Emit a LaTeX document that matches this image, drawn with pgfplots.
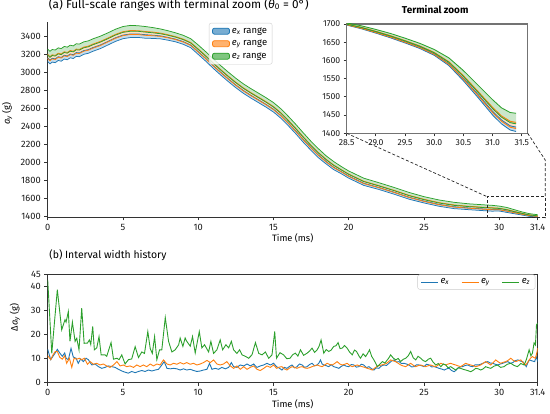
\documentclass[border=0pt]{standalone}
\usepackage{fontspec}
\setmainfont{Fira Sans}
\usepackage{pgfplots}
\pgfplotsset{compat=1.18}
\usepgfplotslibrary{fillbetween}
\usepackage{pgfplotstable}
\definecolor{cb}{HTML}{1F77B4}
\definecolor{co}{HTML}{FF7F0E}
\definecolor{cg}{HTML}{2CA02C}
\definecolor{spinecol}{HTML}{333333}

\pgfplotstableread{
t G glo ohi olo bhi blo
0.0 3255 3188 3196 3150 3157 3115
0.15 3230 3163 3171 3125 3132 3090
0.3 3250 3183 3191 3145 3152 3110
0.5 3244 3177 3185 3139 3146 3104
0.7 3268 3201 3209 3163 3170 3128
0.9 3260 3193 3201 3155 3162 3120
1.1 3284 3217 3225 3179 3186 3144
1.3 3276 3209 3217 3171 3178 3136
1.5 3298 3231 3239 3193 3200 3158
1.7 3290 3223 3231 3185 3192 3150
1.9 3314 3247 3255 3209 3216 3174
2.1 3310 3243 3251 3205 3212 3170
2.4 3335 3269 3277 3231 3238 3197
2.7 3346 3280 3288 3242 3249 3208
3.0 3368 3302 3310 3264 3271 3230
3.5 3398 3332 3340 3294 3301 3260
4.0 3435 3370 3378 3334 3340 3300
4.5 3475 3410 3418 3374 3380 3340
5.0 3505 3440 3448 3404 3410 3370
5.5 3518 3453 3461 3417 3423 3383
6.0 3514 3452 3459 3416 3423 3384
6.5 3505 3443 3450 3407 3414 3375
7.0 3493 3435 3443 3403 3409 3373
7.5 3478 3425 3432 3395 3401 3368
8.0 3458 3408 3414 3379 3384 3353
8.5 3435 3387 3393 3360 3365 3335
9.0 3408 3360 3366 3333 3338 3308
9.5 3370 3322 3328 3295 3300 3270
10.0 3300 3250 3256 3221 3226 3195
10.5 3225 3175 3181 3146 3151 3120
11.0 3145 3095 3101 3066 3071 3040
11.5 3070 3020 3026 2991 2996 2965
12.0 2998 2948 2954 2919 2924 2893
12.5 2930 2880 2886 2851 2856 2825
13.0 2868 2818 2824 2789 2794 2763
13.5 2815 2765 2771 2736 2741 2710
14.0 2765 2715 2721 2686 2691 2660
14.5 2715 2665 2671 2636 2641 2610
15.0 2660 2610 2616 2581 2586 2555
15.5 2590 2540 2546 2511 2516 2485
16.0 2505 2455 2461 2426 2431 2400
16.5 2415 2365 2371 2336 2341 2310
17.0 2320 2270 2276 2241 2246 2215
17.5 2228 2180 2186 2153 2158 2128
18.0 2145 2097 2103 2070 2075 2045
18.5 2068 2025 2030 2000 2005 1978
19.0 2005 1962 1967 1937 1942 1915
19.5 1950 1912 1916 1890 1894 1870
20.0 1900 1862 1866 1840 1844 1820
21.0 1820 1782 1786 1760 1764 1740
22.0 1770 1734 1738 1714 1717 1695
23.0 1718 1682 1686 1662 1665 1643
24.0 1662 1626 1630 1606 1609 1587
25.0 1615 1581 1586 1562 1566 1545
26.0 1578 1544 1549 1525 1529 1508
27.0 1552 1518 1523 1499 1503 1482
28.0 1535 1504 1508 1486 1489 1470
29.0 1524 1493 1497 1475 1478 1459
29.5 1519 1488 1492 1470 1473 1454
30.0 1510 1484 1487 1469 1471 1455
30.5 1495 1469 1472 1454 1456 1440
31.0 1470 1448 1451 1436 1438 1425
31.5 1446 1429 1431 1420 1421 1411
32.0 1426 1411 1413 1404 1405 1396
32.55 1414 1402 1403 1395 1396 1389
}\mainT

\pgfplotstableread{
t G glo ohi olo bhi blo
28.5 1703 1699.5 1700 1698 1698.4 1697
28.75 1695 1690.4 1691 1688.3 1688.9 1687
29.0 1685 1679.2 1680 1676.6 1677.4 1675
29.25 1674 1667 1668 1663.9 1664.9 1662
29.5 1661 1653.5 1654.5 1650.1 1651.1 1648
29.75 1647 1638.9 1640 1635.2 1636.4 1633
30.0 1630 1620.7 1622 1616.6 1617.8 1614
30.25 1607 1594.8 1596.5 1589.4 1591 1586
30.5 1572 1555.8 1558 1548.5 1550.7 1544
30.75 1532 1512.3 1515 1503.4 1506.2 1498
31.0 1492 1467.6 1471 1456.7 1460.1 1450
31.15 1470 1444.5 1448 1433 1436.6 1426
31.3 1457 1429.2 1433 1416.7 1420.5 1409
31.4 1455 1426 1430 1413 1417 1405
}\insetT

\pgfplotstableread{
t v
0 42.6
0.27 12
0.45 25
0.64 38.5
0.93 21.8
1.15 26
1.22 25
1.37 29.4
1.48 17
1.64 25
1.82 17
1.93 18.3
2.08 13.5
2.26 30.8
2.42 16.2
2.64 16.3
2.77 17.6
2.86 15.7
2.99 23.2
3.1 13.5
3.26 14.3
3.41 19
3.55 11.4
3.81 11.4
3.92 10.8
4.21 16.5
4.37 9.6
4.6 10
4.74 9.4
4.92 11.4
5.14 7.6
5.36 9.4
5.58 9.7
5.81 14.8
6.03 10.3
6.25 12.6
6.43 12
6.65 21.1
6.81 14
6.95 12
7.1 19
7.25 9.4
7.43 13.5
7.58 13.5
7.81 26.9
8.03 17
8.25 12.6
8.47 13.5
8.7 15.6
8.8 18.4
8.98 14.9
9.13 18.4
9.24 17
9.47 15
9.62 19
9.8 12.2
10.07 21.1
10.24 14.3
10.42 15.6
10.69 12.6
10.84 17
11.02 12
11.24 13.5
11.46 17.6
11.62 13.5
11.84 15.6
12.02 14.3
12.2 17
12.35 13.5
12.57 12
12.75 13.5
12.91 11.4
13.13 10.8
13.35 10
13.57 11.4
13.8 16.5
14.02 12
14.24 11.4
14.46 12.6
14.68 10
14.9 11.4
15.08 21.1
15.2 10
15.43 12.3
15.67 11.4
15.88 9.8
16.1 10
16.28 11.5
16.45 12.1
16.62 10.9
16.79 13.5
17.0 11.2
17.23 12.1
17.4 13.0
17.56 14.2
17.73 12.4
17.9 13.5
18.03 15.0
18.16 17.6
18.34 12.1
18.5 13.6
18.67 12.8
18.83 13.4
19.0 14.9
19.15 15.2
19.29 16.5
19.42 14.0
19.56 14.2
19.72 15.3
19.89 14.2
20.06 12.5
20.23 11.4
20.38 13.4
20.52 12.8
20.65 11.2
20.78 10
20.95 11.8
21.12 10.7
21.25 12.0
21.38 13.5
21.52 10.8
21.67 9.3
21.78 8.0
21.9 6.5
22.06 7.5
22.23 8.6
22.4 8.0
22.56 9.3
22.67 10.2
22.78 11.4
22.95 10.1
23.12 9.3
23.28 9.9
23.45 8.6
23.6 9.5
23.78 10
23.95 11.0
24.11 12.8
24.28 10.2
24.45 9.3
24.6 10.8
24.78 10
24.95 9.0
25.11 8.6
25.28 9.6
25.44 10
25.6 8.4
25.78 7.2
25.95 7.8
26.11 6.5
26.28 7.6
26.44 7.2
26.6 6.0
26.77 6.5
26.93 5.8
27.1 5.1
27.27 6.0
27.43 5.8
27.6 5.4
27.77 5.1
27.93 4.8
28.1 4.4
28.27 5.0
28.43 5.8
28.6 5.6
28.76 5.1
28.93 5.6
29.09 6.5
29.26 6.1
29.43 5.8
29.65 6.7
29.87 7.2
30.09 6.2
30.31 6.5
30.53 7.5
30.76 7.9
30.98 7.0
31.2 6.5
31.43 7.8
31.65 7.2
31.8 9.5
31.98 13.5
32.1 11.0
32.2 12.1
32.31 16.4
32.4 15.5
32.47 23.9
32.55 24.6
}\ezT

\pgfplotstableread{
t v
0 13.7
0.2 9.4
0.35 10.8
0.5 12.2
0.64 13.7
0.8 12.2
0.97 10.8
1.13 12.2
1.22 10
1.37 9.4
1.55 14.1
1.7 10.5
1.88 10
2.03 7.9
2.19 9.7
2.37 8.6
2.55 10
2.7 9.4
2.93 7.2
3.15 7.6
3.37 6.5
3.59 5.8
3.81 6.2
4.03 6.8
4.26 6.5
4.48 6.2
4.7 5.4
4.92 4.7
5.14 4.2
5.36 3.8
5.58 4.5
5.81 4.0
6.03 4.5
6.25 4.9
6.47 4.5
6.69 5.1
6.92 4.7
7.14 5.1
7.36 5.4
7.58 7.2
7.74 8.6
7.92 5.8
8.14 5.6
8.36 5.8
8.58 5.6
8.8 5.1
9.02 5.6
9.24 5.1
9.47 5.4
9.69 4.9
9.91 4.5
10.13 4.7
10.35 5.1
10.58 5.4
10.75 7.9
10.91 5.4
11.13 5.8
11.35 5.4
11.57 6.2
11.8 5.6
12.02 6.2
12.2 8.2
12.35 6.5
12.57 6.2
12.79 7.2
13.02 6.8
13.24 7.6
13.46 6.8
13.68 7.6
13.9 6.2
14.12 6.8
14.35 7.2
14.57 7.9
14.79 7.2
15.01 7.9
15.2 6.5
15.38 5.9
15.56 5.1
15.72 6.2
15.89 5.8
16.06 6.6
16.23 7.2
16.4 6.0
16.56 6.5
16.73 7.6
16.9 7.2
17.06 6.2
17.23 6.5
17.4 7.4
17.56 7.9
17.73 6.8
17.9 7.2
18.02 8.0
18.12 9.3
18.23 7.6
18.34 7.2
18.5 6.9
18.67 6.5
18.83 7.3
19.0 6.5
19.17 6.2
19.34 5.8
19.5 6.6
19.67 7.2
19.83 6.7
20.0 6.5
20.17 7.4
20.34 7.2
20.5 6.3
20.67 6.5
20.83 7.5
21.0 7.2
21.17 6.1
21.34 6.5
21.5 5.7
21.67 5.1
21.83 6.0
22.0 5.8
22.17 6.8
22.34 7.2
22.5 7.0
22.67 7.9
22.83 8.8
23.0 9.3
23.17 8.4
23.34 8.6
23.5 7.8
23.67 7.9
23.83 7.6
24.0 7.2
24.17 6.4
24.34 6.5
24.5 7.3
24.67 7.2
24.83 6.9
25.0 6.5
25.17 7.5
25.34 7.2
25.5 6.4
25.67 6.5
25.83 6.2
26.0 5.8
26.17 5.5
26.34 5.1
26.5 5.6
26.67 5.8
26.83 4.9
27.0 4.4
27.12 5.0
27.23 5.8
27.4 6.4
27.56 6.5
27.73 7.0
27.9 7.2
28.06 6.7
28.23 6.5
28.4 7.3
28.56 7.2
28.73 7.4
28.9 7.9
29.06 8.3
29.23 8.6
29.4 8.0
29.56 7.9
29.73 7.5
29.9 7.2
30.06 7.6
30.23 7.9
30.4 8.3
30.56 8.6
30.73 7.9
30.9 8.2
31.06 9.0
31.23 9.3
31.4 8.8
31.56 8.6
31.7 7.3
31.79 6.5
31.9 8.2
32.0 9.3
32.17 8.9
32.35 8.6
32.45 10.7
32.55 8.6
}\exT

\pgfplotstableread{
t v
0 11.1
0.2 9.4
0.35 11.4
0.5 12.8
0.64 12.8
0.8 10.4
0.97 9.6
1.13 11
1.26 7.9
1.44 10
1.6 6.2
1.75 10
1.93 9.6
2.1 10
2.26 9.4
2.44 10
2.64 7.5
2.82 8.6
3.04 7.5
3.26 7.9
3.48 7.2
3.7 7.6
3.92 6.8
4.14 6.2
4.37 7.2
4.6 8.6
4.81 6.8
5.03 7.2
5.25 6.5
5.47 6.8
5.7 6.2
5.92 7.2
6.14 6.5
6.36 7.2
6.58 6.5
6.81 7.6
7.03 6.8
7.25 7.6
7.47 7.2
7.69 9.3
7.92 7.6
8.14 7.2
8.36 7.9
8.58 7.5
8.8 8.2
9.02 7.6
9.24 8.2
9.47 7.5
9.69 7.9
9.91 7.2
10.13 7.6
10.35 8.2
10.58 9.1
10.8 8.2
11.02 9.3
11.24 7.6
11.46 7.2
11.68 7.6
11.9 8.6
12.13 6.8
12.35 5.8
12.57 6.8
12.79 5.4
13.02 6.5
13.24 5.4
13.46 6.2
13.68 6.8
13.9 5.4
14.12 4.9
14.35 5.8
14.57 6.8
14.79 6.2
15.01 7.2
15.2 5.8
15.38 6.3
15.56 6.5
15.72 5.6
15.89 5.1
16.06 5.9
16.23 6.5
16.4 6.2
16.56 5.8
16.73 6.3
16.9 6.5
17.06 6.0
17.23 5.8
17.4 6.1
17.56 6.5
17.73 6.9
17.9 7.2
18.06 6.8
18.23 6.5
18.4 7.2
18.56 7.9
18.73 7.4
18.9 7.2
19.06 7.8
19.23 8.6
19.4 7.6
19.56 7.2
19.73 7.5
19.89 7.9
20.06 7.0
20.23 6.5
20.4 6.9
20.56 7.2
20.73 6.8
20.89 6.5
21.06 6.2
21.23 5.8
21.4 5.5
21.56 5.1
21.7 5.8
21.85 6.5
22.0 6.9
22.18 7.2
22.35 7.5
22.52 7.9
22.65 8.6
22.78 9.3
22.95 8.9
23.12 8.6
23.28 7.9
23.45 7.2
23.6 6.8
23.78 6.5
23.95 7.2
24.11 7.9
24.28 7.1
24.45 6.5
24.6 6.9
24.78 7.2
24.95 6.8
25.11 6.5
25.28 6.9
25.44 7.2
25.6 6.8
25.78 6.5
25.95 7.2
26.11 7.9
26.28 7.5
26.44 7.2
26.6 7.6
26.77 7.9
26.93 7.5
27.1 7.2
27.27 6.8
27.43 6.5
27.6 7.2
27.77 7.9
27.93 7.5
28.1 7.2
28.27 6.9
28.43 6.5
28.6 6.8
28.76 7.2
28.93 7.9
29.09 8.6
29.26 7.9
29.43 7.2
29.6 8.2
29.76 9.3
29.93 8.5
30.09 7.9
30.26 8.3
30.43 8.6
30.6 9.2
30.76 10
30.93 9.1
31.09 8.6
31.26 9.0
31.43 9.3
31.6 8.0
31.76 7.2
31.88 8.3
31.98 9.3
32.1 10.2
32.2 10.7
32.3 10.3
32.4 10
32.5 12.5
32.55 14.2
}\eyT

\pgfplotsset{
  every axis/.append style={
    tick label style={font=\fontsize{9.3}{10}\selectfont, color=black!90},
    label style={font=\fontsize{9.3}{10}\selectfont},
    /pgf/number format/assume math mode=true,
    /pgf/number format/1000 sep={},
    scaled ticks=false,
    tick align=outside,
    major tick length=3.5bp,
    tick style={spinecol, line width=0.8bp},
  }
}

\begin{document}
\begin{tikzpicture}

% ---------- panel (a)
\begin{axis}[
  at={(47.7bp,197bp)}, anchor=south west,
  scale only axis, width=490bp, height=195.4bp,
  xmin=0, xmax=32.55, ymin=1389, ymax=3560,
  axis lines=left,
  axis line style={spinecol, line width=0.8bp, -},
  tick align=outside, tick pos=left,
  clip=false,
  xtick={0,5,10,15,20,25,30,32.55},
  xticklabels={0,5,10,15,20,25,30,31.4},
  ytick={1400,1600,1800,2000,2200,2400,2600,2800,3000,3200,3400},
  xlabel={Time (ms)},
  xlabel style={at={(axis description cs:0.5,0)}, anchor=base, yshift=-25bp},
  ylabel={\textit{a}\textsubscript{\textit{y}} (g)},
  ylabel style={at={(axis description cs:-0.083,0.53)}, anchor=center},
  title={(a) Full-scale ranges with terminal zoom (\textit{θ}\textsubscript{0} = 0°)},
  title style={at={(axis description cs:0,1)}, anchor=base west, yshift=7.5bp, xshift=1bp, inner sep=0pt, font=\fontsize{11.8}{13}\selectfont},
  legend style={at={(0.329,0.993)}, anchor=north west, draw=black!20, rounded corners=2bp,
    fill=white, fill opacity=0.8, text opacity=1, font=\fontsize{9.5}{11}\selectfont,
    row sep=1.5bp, inner xsep=3bp, inner ysep=2.5bp},
  legend cell align=left,
  legend image code/.code={\draw[#1] (0bp,-3bp) rectangle (17bp,3bp);},
]
\addplot[draw=none, forget plot, name path=blo] table[x=t,y=blo]{\mainT};
\addplot[draw=none, forget plot, name path=bhi] table[x=t,y=bhi]{\mainT};
\addplot[draw=none, forget plot, name path=olo] table[x=t,y=olo]{\mainT};
\addplot[draw=none, forget plot, name path=ohi] table[x=t,y=ohi]{\mainT};
\addplot[draw=none, forget plot, name path=glo] table[x=t,y=glo]{\mainT};
\addplot[draw=none, forget plot, name path=ghi] table[x=t,y=G]{\mainT};
\addplot[fill=cb, fill opacity=0.25, forget plot] fill between[of=blo and bhi];
\addplot[fill=co, fill opacity=0.25, forget plot] fill between[of=olo and ohi];
\addplot[fill=cg, fill opacity=0.25, forget plot] fill between[of=glo and ghi];
\addplot[cb, line width=0.75bp, forget plot] table[x=t,y=blo]{\mainT};
\addplot[cb, line width=0.75bp, forget plot] table[x=t,y=bhi]{\mainT};
\addplot[co, line width=0.75bp, forget plot] table[x=t,y=olo]{\mainT};
\addplot[co, line width=0.75bp, forget plot] table[x=t,y=ohi]{\mainT};
\addplot[cg, line width=0.75bp, forget plot] table[x=t,y=glo]{\mainT};
\addplot[cg, line width=0.75bp, forget plot] table[x=t,y=G]{\mainT};
\addlegendimage{fill=cb, fill opacity=0.6, draw=cb, line width=0.8bp}
\addlegendentry{\textit{e}\textsubscript{\textit{x}} range}
\addlegendimage{fill=co, fill opacity=0.6, draw=co, line width=0.8bp}
\addlegendentry{\textit{e}\textsubscript{\textit{y}} range}
\addlegendimage{fill=cg, fill opacity=0.6, draw=cg, line width=0.8bp}
\addlegendentry{\textit{e}\textsubscript{\textit{z}} range}
\draw[black!85, line width=0.7bp, dash pattern=on 3bp off 2bp] (axis cs:29.2,1380) rectangle (axis cs:33.05,1614);
\coordinate (bTL) at (axis cs:29.2,1614);
\coordinate (bTR) at (axis cs:33.05,1614);
\coordinate (bK) at (axis cs:33.05,2022);
\end{axis}

% ---------- inset
\begin{axis}[
  at={(346.7bp,280.7bp)}, anchor=south west,
  scale only axis, width=181bp, height=109.3bp,
  xmin=28.5, xmax=31.6, ymin=1400, ymax=1700,
  axis background/.style={fill=white},
  axis line style={black!55, line width=1.2bp},
  tick pos=left,
  tick label style={font=\fontsize{8.7}{9}\selectfont},
  major tick length=3bp,
  xtick={28.5,29,29.5,30,30.5,31,31.5},
  xticklabels={28.5,29.0,29.5,30.0,30.5,31.0,31.5},
  ytick={1400,1450,1500,1550,1600,1650,1700},
  title={Terminal zoom},
  title style={at={(axis description cs:0.5,1)}, anchor=base, yshift=5bp, xshift=-2bp, inner sep=0pt, font=\fontsize{10}{11}\selectfont\bfseries},
]
\addplot[draw=none, forget plot, name path=iblo] table[x=t,y=blo]{\insetT};
\addplot[draw=none, forget plot, name path=ibhi] table[x=t,y=bhi]{\insetT};
\addplot[draw=none, forget plot, name path=iolo] table[x=t,y=olo]{\insetT};
\addplot[draw=none, forget plot, name path=iohi] table[x=t,y=ohi]{\insetT};
\addplot[draw=none, forget plot, name path=iglo] table[x=t,y=glo]{\insetT};
\addplot[draw=none, forget plot, name path=ighi] table[x=t,y=G]{\insetT};
\addplot[fill=cb, fill opacity=0.25, forget plot] fill between[of=iblo and ibhi];
\addplot[fill=co, fill opacity=0.25, forget plot] fill between[of=iolo and iohi];
\addplot[fill=cg, fill opacity=0.25, forget plot] fill between[of=iglo and ighi];
\addplot[cb, line width=0.85bp] table[x=t,y=blo]{\insetT};
\addplot[cb, line width=0.85bp] table[x=t,y=bhi]{\insetT};
\addplot[co, line width=0.85bp] table[x=t,y=olo]{\insetT};
\addplot[co, line width=0.85bp] table[x=t,y=ohi]{\insetT};
\addplot[cg, line width=0.85bp] table[x=t,y=glo]{\insetT};
\addplot[cg, line width=0.85bp] table[x=t,y=G]{\insetT};
\coordinate (insBL) at (rel axis cs:0,0);
\coordinate (insBR) at (rel axis cs:1,0);
\end{axis}

\draw[black!85, line width=0.7bp, dash pattern=on 3bp off 2bp] (insBL) -- (bTL);
\draw[black!85, line width=0.7bp, dash pattern=on 3bp off 2bp] (insBR) -- (bK) -- (bTR);

% ---------- panel (b)
\begin{axis}[
  at={(47.7bp,31.7bp)}, anchor=south west,
  scale only axis, width=490bp, height=108.3bp,
  xmin=0, xmax=32.55, ymin=0, ymax=45,
  axis line style={spinecol, line width=0.8bp},
  tick pos=left,
  xtick={0,5,10,15,20,25,30,32.55},
  xticklabels={0,5,10,15,20,25,30,31.4},
  ytick={0,10,20,30,40,45},
  xlabel={Time (ms)},
  xlabel style={at={(axis description cs:0.5,0)}, anchor=base, yshift=-25bp},
  ylabel={Δ\textit{a}\textsubscript{\textit{y}} (g)},
  ylabel style={at={(axis description cs:-0.067,0.6)}, anchor=center},
  title={(b) Interval width history},
  title style={at={(axis description cs:0,1)}, anchor=base west, yshift=9.5bp, xshift=1.5bp, inner sep=0pt, font=\fontsize{10.5}{12}\selectfont},
  legend columns=3,
  legend style={at={(0.995,0.995)}, anchor=north east, draw=black!20, rounded corners=2bp,
    fill=white, fill opacity=0.8, text opacity=1, font=\fontsize{9.5}{11}\selectfont,
    inner xsep=3bp, inner ysep=2bp,
    /tikz/every even column/.append style={column sep=10bp}},
  legend image code/.code={\draw[#1] (0bp,0bp) -- (17bp,0bp);},
]
\addplot[cb, line width=0.9bp, forget plot] table[x=t,y=v]{\exT};
\addplot[co, line width=0.9bp, forget plot] table[x=t,y=v]{\eyT};
\addplot[cg, line width=0.9bp, forget plot] table[x=t,y=v]{\ezT};
\addlegendimage{draw=cb, line width=0.9bp}
\addlegendentry{\textit{e}\textsubscript{\textit{x}}}
\addlegendimage{draw=co, line width=0.9bp}
\addlegendentry{\textit{e}\textsubscript{\textit{y}}}
\addlegendimage{draw=cg, line width=0.9bp}
\addlegendentry{\textit{e}\textsubscript{\textit{z}}}
\end{axis}
\pgfresetboundingbox
\useasboundingbox (0,0) rectangle (550bp,414bp);
\end{tikzpicture}
\end{document}
